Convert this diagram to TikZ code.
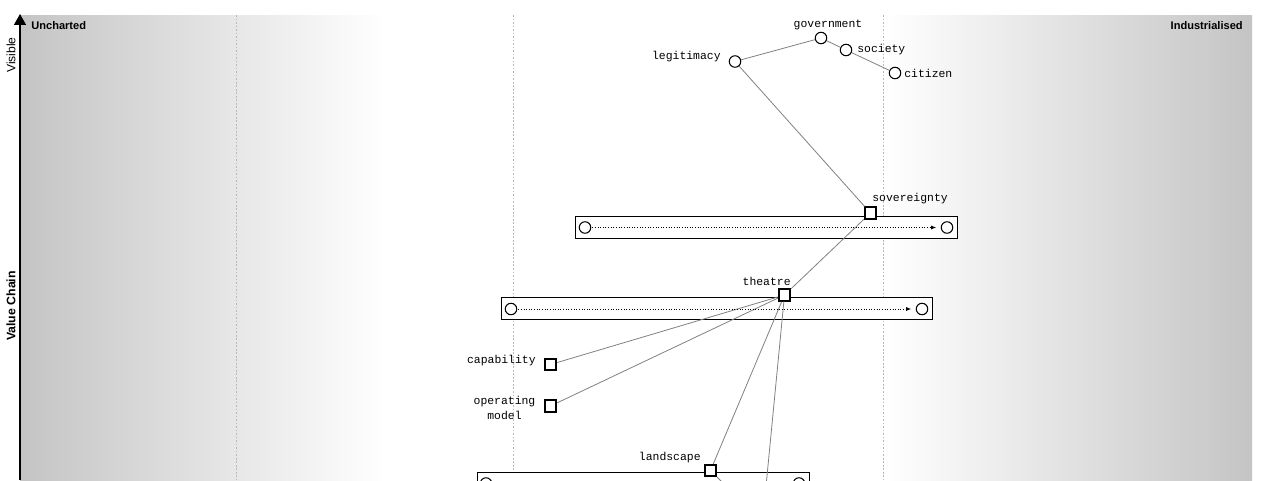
\documentclass[tikz,border=0pt]{standalone}
\usepackage{fontspec}
\setmainfont{Liberation Sans}
\setmonofont{Liberation Mono}
\usetikzlibrary{arrows.meta}

\begin{document}
\begin{tikzpicture}[x=0.02cm,y=-0.02cm,
  comp/.style={circle,draw,fill=white,line width=0.6pt,minimum size=0.23cm,inner sep=0pt},
  capab/.style={rectangle,draw,fill=white,line width=1.2pt,minimum size=0.225cm,inner sep=0pt},
  lbl/.style={font=\ttfamily\fontsize{6.5}{8}\selectfont,inner sep=0pt},
  stage/.style={font=\bfseries\fontsize{6.3}{7}\selectfont,inner sep=0pt},
  edge/.style={draw=gray,line width=0.45pt},
  pipe/.style={draw,fill=white,line width=0.5pt},
  evolve/.style={densely dotted,line width=0.5pt,-{Latex[length=0.1cm,width=0.08cm]},shorten >=0.09cm,shorten <=0.02cm},
  guide/.style={draw=gray!55,line width=0.4pt,dash pattern=on 1pt off 1pt}]
\useasboundingbox (0,0) rectangle (1264,480);
\clip (0,0) rectangle (1264,480);
\fill[white] (0,0) rectangle (1264,480);
\shade[left color=black!23,right color=white] (20,15) rectangle (385,480);
\shade[left color=white,right color=black!23] (883,15) rectangle (1252,480);
\foreach \x in {236,513,883} \draw[guide] (\x,15) -- (\x,480);
\draw[line width=0.8pt,-{Triangle[width=0.24cm,length=0.22cm]}] (20,480) -- (20,14);

\node[stage,anchor=base west] (uncharted) at (31,30) {Uncharted};
\node[stage,anchor=base east] (industrialised) at (1243,30) {Industrialised};
\node[font=\fontsize{6.9}{8}\selectfont,rotate=90,inner sep=0pt] (visible) at (11,55) {Visible};
\node[font=\bfseries\fontsize{7}{8}\selectfont,rotate=90,inner sep=0pt] (valuechain) at (11,306) {Value Chain};

\draw[pipe] (575,216) rectangle (957,238);
\draw[pipe] (501,297) rectangle (932,319);
\draw[pipe] (477,472) rectangle (809,494);

\node[comp] (legitimacy) at (735,61.5) {};
\node[comp] (government) at (821,38) {};
\node[comp] (society) at (846,50) {};
\node[comp] (citizen) at (895,73) {};
\node[comp] (sovstart) at (585,227.5) {};
\node[comp] (sovend) at (947,227.5) {};
\node[comp] (theastart) at (511,309) {};
\node[comp] (theaend) at (922,309) {};
\node[comp] (landstart) at (486,483.5) {};
\node[comp] (landend) at (799,483.5) {};
\node[capab] (sovereignty) at (870.5,213) {};
\node[capab] (theatre) at (784.5,295) {};
\node[capab] (capability) at (550.5,364.5) {};
\node[capab] (opmodel) at (550.5,406) {};
\node[capab] (landscape) at (710.5,470.5) {};
\coordinate (below1) at (755,600);
\coordinate (below2) at (760,520);

\node[lbl,anchor=base] (governmentlbl) at (828,28) {government};
\node[lbl,anchor=base west] (societylbl) at (857,52) {society};
\node[lbl,anchor=base west] (citizenlbl) at (904,77) {citizen};
\node[lbl,anchor=base east] (legitimacylbl) at (721,59) {legitimacy};
\node[lbl,anchor=base west] (sovereigntylbl) at (872,201) {sovereignty};
\node[lbl,anchor=base east] (theatrelbl) at (791,285) {theatre};
\node[lbl,anchor=base east] (capabilitylbl) at (536,363) {capability};
\node[lbl,anchor=base,align=center] (opmodellbl) at (504.5,419) {operating\\model};
\node[lbl,anchor=base east] (landscapelbl) at (701,460) {landscape};

\draw [edge] (legitimacy) to (government);
\draw [edge] (government) to (society);
\draw [edge] (society) to (citizen);
\draw [edge] (legitimacy) to (sovereignty);
\draw [edge] (sovereignty) to (theatre);
\draw [edge] (theatre) to (capability);
\draw [edge] (theatre) to (opmodel);
\draw [edge] (theatre) to (landscape);
\draw [edge] (theatre) to (below1);
\draw [edge] (landscape) to (below2);

\draw [evolve] (sovstart) -- (sovend);
\draw [evolve] (theastart) -- (theaend);
\draw [evolve] (landstart) -- (landend);
\end{tikzpicture}
\end{document}
